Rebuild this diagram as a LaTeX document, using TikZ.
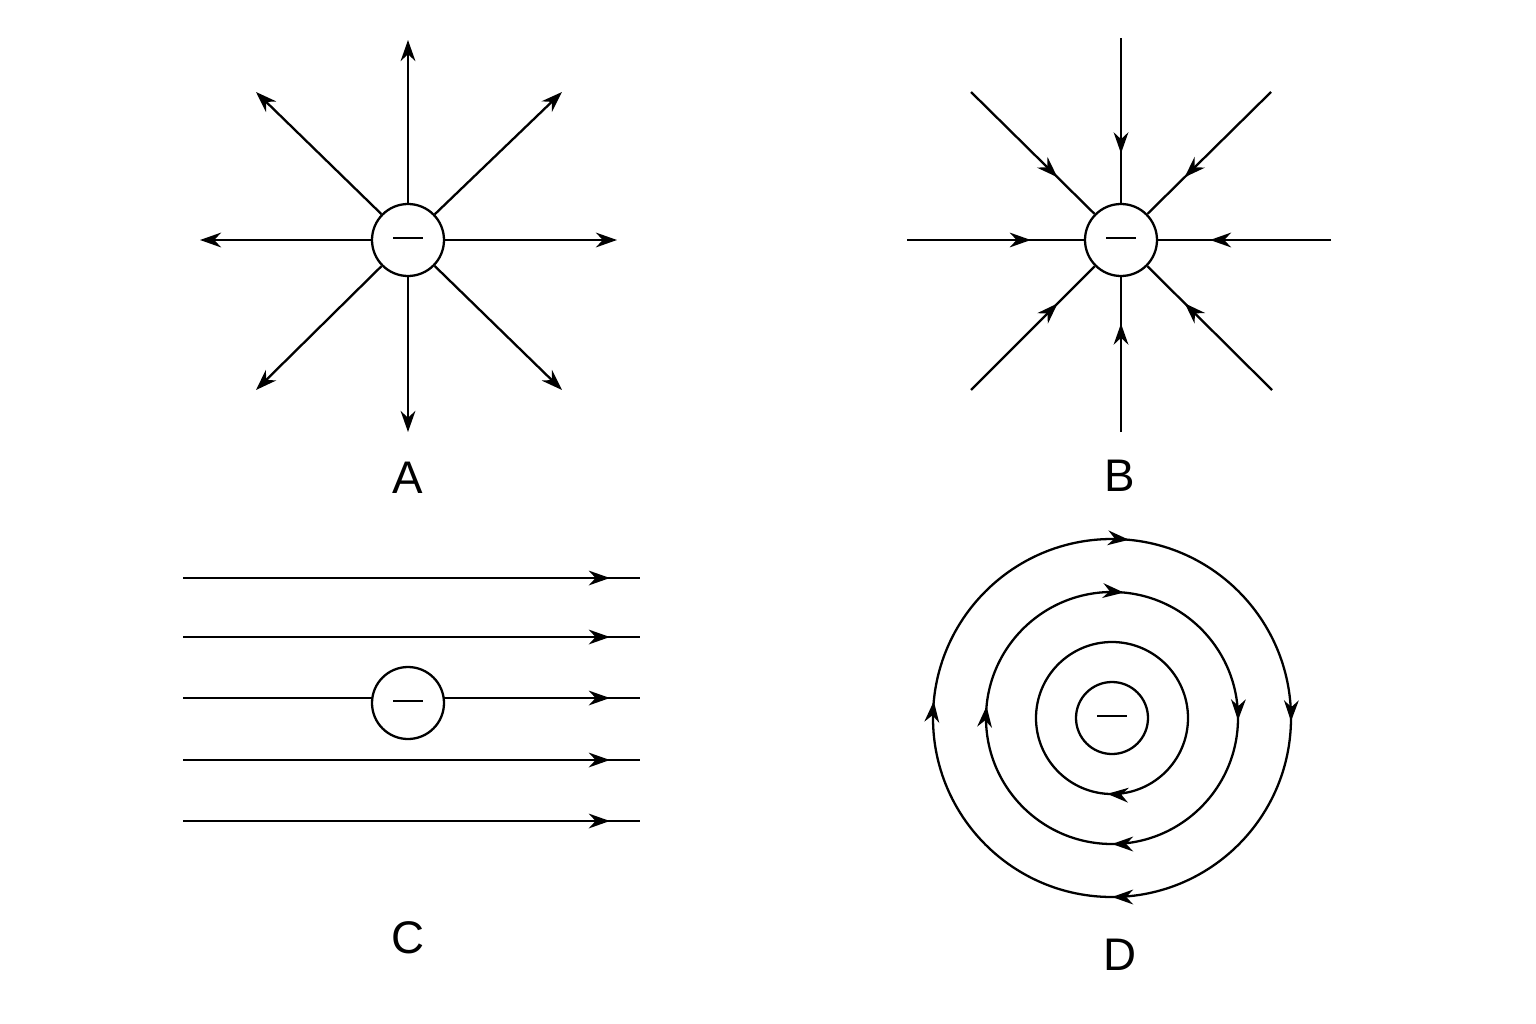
\documentclass[tikz,border=0pt]{standalone}
\usepackage{fontspec}
\setmainfont{Liberation Sans}
\usetikzlibrary{arrows.meta,decorations.markings,calc}
\begin{document}
\begin{tikzpicture}[x=0.01cm,y=-0.01cm,line width=0.65pt,
  tip/.style={-{Stealth[length=6pt,width=4.2pt]}},
  charge/.style={circle,draw,fill=white,minimum size=72*0.01cm,inner sep=0pt,
    node contents={\rule[1.1pt]{8.5pt}{0.75pt}}},
  mid/.style={postaction=decorate,decoration={markings,mark=at position #1 with {\arrow{Stealth[length=6pt,width=4.2pt]}}}},
  lab/.style={font=\fontsize{13}{13}\selectfont}]
\useasboundingbox (0,0) rectangle (1536,1024);
% A
\coordinate (a1) at (408,40); \coordinate (a2) at (408,432);
\coordinate (a3) at (200,240); \coordinate (a4) at (617,240);
\coordinate (a5) at (256,92); \coordinate (a6) at (562,390);
\coordinate (a7) at (562,92); \coordinate (a8) at (256,390);
\node (qa) at (408,240) [charge];
\foreach \c in {a1,a2,a3,a4,a5,a6,a7,a8} \draw[tip] (qa) -- (\c);
\node[lab] (la) at (408,478) {A};
% B
\coordinate (b1) at (1121,38); \coordinate (b2) at (1121,432);
\coordinate (b3) at (907,240); \coordinate (b4) at (1331,240);
\coordinate (b5) at (971,92); \coordinate (b6) at (1272,390);
\coordinate (b7) at (1271,92); \coordinate (b8) at (971,390);
\node (qb) at (1121,240) [charge];
\foreach \c in {b1,b2,b3,b4,b5,b6,b7,b8} \draw[mid=0.7] (\c) -- (qb);
\node[lab] (lb) at (1120,476) {B};
% C
\foreach \i/\y in {1/578,2/637,3/698,4/760,5/821}{
  \coordinate (cl\i) at (183,\y); \coordinate (cr\i) at (640,\y);
  \draw[mid=0.934] (cl\i) -- (cr\i);}
\node (qc) at (408,703) [charge];
\node[lab] (lc) at (408,938) {C};
% D
\coordinate (dc) at (1112,718);
\draw[postaction=decorate,decoration={markings,
  mark=at position 0.003 with {\arrow{Stealth[length=6pt,width=4.2pt]}},
  mark=at position 0.25 with {\arrow{Stealth[length=6pt,width=4.2pt]}},
  mark=at position 0.515 with {\arrow{Stealth[length=6pt,width=4.2pt]}},
  mark=at position 0.765 with {\arrow{Stealth[length=6pt,width=4.2pt]}}}]
  ($(dc)+(179,0)$) arc (0:360:179);
\draw[postaction=decorate,decoration={markings,
  mark=at position 0.003 with {\arrow{Stealth[length=6pt,width=4.2pt]}},
  mark=at position 0.25 with {\arrow{Stealth[length=6pt,width=4.2pt]}},
  mark=at position 0.515 with {\arrow{Stealth[length=6pt,width=4.2pt]}},
  mark=at position 0.765 with {\arrow{Stealth[length=6pt,width=4.2pt]}}}]
  ($(dc)+(126,0)$) arc (0:360:126);
\draw[postaction=decorate,decoration={markings,
  mark=at position 0.26 with {\arrow{Stealth[length=6pt,width=4.2pt]}}}]
  ($(dc)+(76,0)$) arc (0:360:76);
\node (qd) at (dc) [charge];
\node[lab] (ld) at (1120,955) {D};
\end{tikzpicture}
\end{document}
